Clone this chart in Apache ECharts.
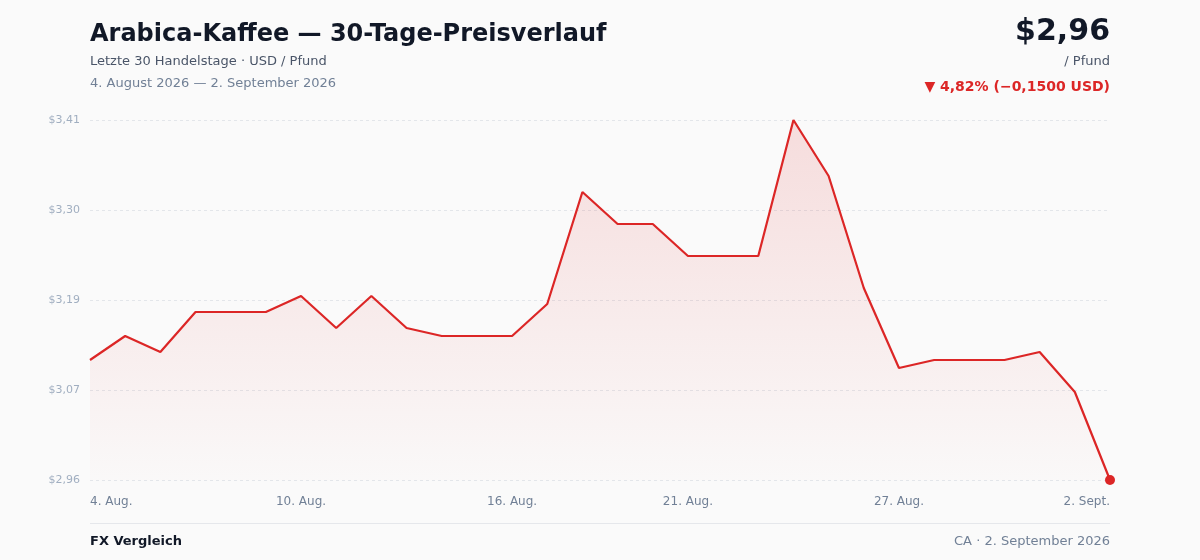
<!DOCTYPE html>
<html>
<head>
<meta charset="utf-8">
<title>Arabica-Kaffee — 30-Tage-Preisverlauf</title>
<script src="https://cdn.jsdelivr.net/npm/echarts@6/dist/echarts.min.js"></script>
<style>
    html, body { margin: 0; padding: 0; background: #fafafa; }
    #chart { width: 1200px; height: 560px; }
</style>
</head>
<body>
<div id="chart"></div>
<script>
    // daily closes, 4. Aug. - 2. Sept. 2026 (USD / Pfund)
    var days = ['4. Aug.', '5. Aug.', '6. Aug.', '7. Aug.', '8. Aug.', '9. Aug.', '10. Aug.', '11. Aug.',
        '12. Aug.', '13. Aug.', '14. Aug.', '15. Aug.', '16. Aug.', '17. Aug.', '18. Aug.', '19. Aug.',
        '20. Aug.', '21. Aug.', '22. Aug.', '23. Aug.', '24. Aug.', '25. Aug.', '26. Aug.', '27. Aug.',
        '28. Aug.', '29. Aug.', '30. Aug.', '31. Aug.', '1. Sept.', '2. Sept.'];
    var prices = [3.11, 3.14, 3.12, 3.17, 3.17, 3.17, 3.19, 3.15, 3.19, 3.15,
        3.14, 3.14, 3.14, 3.18, 3.32, 3.28, 3.28, 3.24, 3.24, 3.24,
        3.41, 3.34, 3.20, 3.10, 3.11, 3.11, 3.11, 3.12, 3.07, 2.96];
    var shownDays = [0, 6, 12, 17, 23, 29];
    var yTicks = [2.96, 3.0725, 3.185, 3.2975, 3.41];
    var yTickLabels = ['$2,96', '$3,07', '$3,19', '$3,30', '$3,41'];

    var red = '#dc2626';
    var font = 'DejaVu Sans';

    var chart = echarts.init(document.getElementById('chart'));

    var option = {
        backgroundColor: '#fafafa',
        animation: false,
        textStyle: {fontFamily: font},
        grid: {left: 90, right: 90, top: 120, bottom: 80, containLabel: false},
        xAxis: {
            type: 'category',
            data: days,
            boundaryGap: false,
            axisLine: {show: false},
            axisTick: {show: false},
            splitLine: {show: false},
            axisLabel: {
                color: '#718096',
                fontSize: 12,
                margin: 16,
                alignMinLabel: 'left',
                alignMaxLabel: 'right',
                interval: function (index) {
                    return shownDays.indexOf(index) >= 0;
                }
            }
        },
        yAxis: {
            type: 'value',
            min: yTicks[0],
            max: yTicks[yTicks.length - 1],
            axisLine: {show: false},
            axisTick: {show: false, customValues: yTicks},
            splitLine: {
                show: true,
                lineStyle: {color: '#e3e6ea', type: [3, 3], width: 1}
            },
            axisLabel: {
                customValues: yTicks,
                color: '#a0aec0',
                fontSize: 11,
                margin: 10,
                formatter: function (v) {
                    var best = 0;
                    for (var i = 1; i < yTicks.length; i++) {
                        if (Math.abs(yTicks[i] - v) < Math.abs(yTicks[best] - v)) best = i;
                    }
                    return yTickLabels[best];
                }
            }
        },
        series: [{
            type: 'line',
            data: prices,
            symbol: 'none',
            lineStyle: {color: red, width: 2.2},
            areaStyle: {
                color: new echarts.graphic.LinearGradient(0, 0, 0, 1, [
                    {offset: 0, color: 'rgba(220,38,38,0.2)'},
                    {offset: 1, color: 'rgba(220,38,38,0.01)'}
                ])
            },
            markPoint: {
                symbol: 'circle',
                symbolSize: 10,
                silent: true,
                itemStyle: {color: red},
                label: {show: false},
                data: [{coord: [days.length - 1, prices[prices.length - 1]]}]
            }
        }],
        graphic: [
            {type: 'text', left: 90, top: 23, style: {text: 'Arabica-Kaffee — 30-Tage-Preisverlauf', font: 'bold 24px ' + font, fill: '#111827'}},
            {type: 'text', left: 90, top: 55, style: {text: 'Letzte 30 Handelstage · USD / Pfund', font: '13px ' + font, fill: '#4a5568'}},
            {type: 'text', left: 90, top: 77, style: {text: '4. August 2026 — 2. September 2026', font: '13px ' + font, fill: '#718096'}},
            {type: 'text', right: 90, top: 17, style: {text: '$2,96', font: 'bold 30px ' + font, fill: '#111827'}},
            {type: 'text', right: 90, top: 55, style: {text: '/ Pfund', font: '13px ' + font, fill: '#4a5568'}},
            {type: 'text', right: 90, top: 80, style: {text: '▼ 4,82% (−0,1500 USD)', font: 'bold 14px ' + font, fill: red}},
            {type: 'rect', left: 90, top: 523, shape: {width: 1020, height: 1}, style: {fill: '#e5e7eb'}},
            {type: 'text', left: 90, top: 535, style: {text: 'FX Vergleich', font: 'bold 13px ' + font, fill: '#111827'}},
            {type: 'text', right: 90, top: 535, style: {text: 'CA · 2. September 2026', font: '13px ' + font, fill: '#718096'}}
        ]
    };

    chart.setOption(option);
</script>
</body>
</html>
